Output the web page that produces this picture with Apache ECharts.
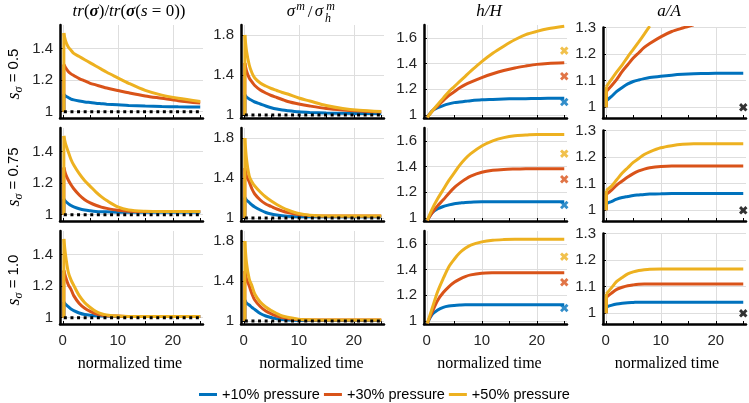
<!DOCTYPE html>
<html><head><meta charset="utf-8">
<script src="https://cdn.jsdelivr.net/npm/echarts@6/dist/echarts.min.js"></script>
<style>html,body{margin:0;padding:0;background:#fff}#c{width:749px;height:403px}</style>
</head><body><div id="c"></div>
<script>
const seriesNames = ['+10% pressure', '+30% pressure', '+50% pressure'];
const colors = ['#0072BD', '#D95319', '#EDB120'];
const rowLabels = ['0.5', '0.75', '1.0'];
const xTickValues = [0, 5, 10, 15, 20, 25];
const xLabelValues = [0, 10, 20];
const xGridValues = [0, 10, 20];
const yTicks = [[1, 1.2, 1.4], [1, 1.4, 1.8], [1, 1.2, 1.4, 1.6], [1, 1.1, 1.2, 1.3]];
const yMin = [0.96, 0.97, 0.975, 0.96];
const yMax = [1.55, 1.9, 1.7, 1.3];

// time samples
const tJump = [0.2, 0.2, 0.5, 1, 1.5, 2, 3, 4, 5, 6, 7, 8, 10, 12, 15, 18, 21, 25];
const tH = [0.1, 1, 2, 3, 4, 5, 6, 7, 8, 10, 12, 14, 16, 18, 20, 22, 25];
const tA = [0.1, 0.1, 1, 2, 3, 4, 5, 6, 7, 8, 10, 12, 14, 16, 18, 20, 25];

// column 1: tr(sigma)/tr(sigma(s=0))
const tr_s05_p10 = [1, 1.11, 1.10, 1.09, 1.08, 1.075, 1.068, 1.062, 1.058, 1.054, 1.051, 1.048, 1.044, 1.040, 1.036, 1.033, 1.031, 1.030];
const tr_s05_p30 = [1, 1.30, 1.28, 1.255, 1.24, 1.23, 1.21, 1.195, 1.18, 1.17, 1.16, 1.15, 1.135, 1.12, 1.10, 1.085, 1.07, 1.055];
const tr_s05_p50 = [1, 1.50, 1.45, 1.41, 1.39, 1.37, 1.35, 1.33, 1.31, 1.29, 1.27, 1.25, 1.215, 1.18, 1.135, 1.105, 1.085, 1.065];
const tr_s075_p10 = [1, 1.10, 1.085, 1.07, 1.058, 1.05, 1.038, 1.03, 1.025, 1.021, 1.019, 1.018, 1.016, 1.015, 1.015, 1.015, 1.015, 1.015];
const tr_s075_p30 = [1, 1.30, 1.26, 1.22, 1.19, 1.165, 1.125, 1.095, 1.075, 1.06, 1.048, 1.04, 1.028, 1.022, 1.02, 1.02, 1.02, 1.02];
const tr_s075_p50 = [1, 1.50, 1.45, 1.40, 1.35, 1.315, 1.26, 1.215, 1.18, 1.145, 1.115, 1.09, 1.05, 1.03, 1.022, 1.02, 1.02, 1.02];
const tr_s10_p10 = [1, 1.10, 1.085, 1.07, 1.055, 1.045, 1.03, 1.02, 1.015, 1.012, 1.01, 1.01, 1.008, 1.008, 1.008, 1.008, 1.008, 1.008];
const tr_s10_p30 = [1, 1.30, 1.26, 1.21, 1.18, 1.14, 1.09, 1.06, 1.04, 1.025, 1.017, 1.012, 1.01, 1.008, 1.008, 1.008, 1.008, 1.008];
const tr_s10_p50 = [1, 1.50, 1.40, 1.29, 1.24, 1.205, 1.14, 1.095, 1.065, 1.04, 1.025, 1.017, 1.01, 1.008, 1.008, 1.008, 1.008, 1.008];

// column 2: sigma^m / sigma_h^m
const sm_s05_p10 = [1, 1.20, 1.18, 1.16, 1.145, 1.13, 1.11, 1.09, 1.073, 1.06, 1.05, 1.043, 1.032, 1.026, 1.02, 1.017, 1.015, 1.015];
const sm_s05_p30 = [1, 1.52, 1.44, 1.37, 1.33, 1.295, 1.25, 1.22, 1.195, 1.175, 1.155, 1.135, 1.11, 1.09, 1.065, 1.05, 1.04, 1.03];
const sm_s05_p50 = [1, 1.80, 1.64, 1.50, 1.42, 1.37, 1.32, 1.29, 1.265, 1.245, 1.225, 1.21, 1.17, 1.14, 1.095, 1.065, 1.048, 1.035];
const sm_s075_p10 = [1, 1.205, 1.18, 1.155, 1.13, 1.11, 1.08, 1.055, 1.04, 1.03, 1.022, 1.018, 1.013, 1.012, 1.012, 1.012, 1.012, 1.012];
const sm_s075_p30 = [1, 1.50, 1.42, 1.36, 1.29, 1.24, 1.18, 1.14, 1.115, 1.09, 1.07, 1.055, 1.035, 1.025, 1.02, 1.02, 1.02, 1.02];
const sm_s075_p50 = [1, 1.80, 1.59, 1.42, 1.36, 1.32, 1.26, 1.21, 1.17, 1.135, 1.105, 1.08, 1.045, 1.028, 1.02, 1.02, 1.02, 1.02];
const sm_s10_p10 = [1, 1.21, 1.18, 1.16, 1.135, 1.115, 1.075, 1.05, 1.035, 1.022, 1.015, 1.01, 1.006, 1.005, 1.005, 1.005, 1.005, 1.005];
const sm_s10_p30 = [1, 1.50, 1.42, 1.35, 1.27, 1.21, 1.145, 1.10, 1.072, 1.05, 1.035, 1.025, 1.014, 1.01, 1.01, 1.01, 1.01, 1.01];
const sm_s10_p50 = [1, 1.80, 1.58, 1.42, 1.35, 1.27, 1.19, 1.14, 1.105, 1.075, 1.05, 1.037, 1.018, 1.012, 1.01, 1.01, 1.01, 1.01];

// column 3: h/H
const h_s05_p10 = [0.98, 1.03, 1.055, 1.072, 1.085, 1.095, 1.10, 1.105, 1.11, 1.117, 1.12, 1.123, 1.125, 1.126, 1.127, 1.128, 1.128];
const h_s05_p30 = [0.98, 1.03, 1.07, 1.11, 1.15, 1.18, 1.21, 1.235, 1.255, 1.29, 1.32, 1.345, 1.365, 1.38, 1.393, 1.40, 1.405];
const h_s05_p50 = [0.98, 1.03, 1.08, 1.13, 1.18, 1.22, 1.26, 1.30, 1.34, 1.415, 1.48, 1.535, 1.585, 1.625, 1.65, 1.67, 1.69];
const h_s075_p10 = [0.98, 1.04, 1.07, 1.088, 1.10, 1.11, 1.115, 1.12, 1.122, 1.125, 1.125, 1.125, 1.125, 1.125, 1.125, 1.125, 1.125];
const h_s075_p30 = [0.98, 1.04, 1.095, 1.14, 1.19, 1.235, 1.27, 1.30, 1.325, 1.355, 1.37, 1.377, 1.38, 1.382, 1.383, 1.383, 1.383];
const h_s075_p50 = [0.98, 1.07, 1.15, 1.22, 1.29, 1.35, 1.41, 1.46, 1.50, 1.56, 1.60, 1.625, 1.64, 1.645, 1.65, 1.65, 1.65];
const h_s10_p10 = [0.98, 1.05, 1.085, 1.105, 1.115, 1.12, 1.123, 1.125, 1.125, 1.125, 1.125, 1.125, 1.125, 1.125, 1.125, 1.125, 1.125];
const h_s10_p30 = [0.98, 1.07, 1.16, 1.22, 1.265, 1.30, 1.325, 1.345, 1.358, 1.37, 1.374, 1.375, 1.375, 1.375, 1.375, 1.375, 1.375];
const h_s10_p50 = [0.98, 1.10, 1.23, 1.33, 1.42, 1.48, 1.53, 1.565, 1.59, 1.615, 1.628, 1.633, 1.635, 1.635, 1.635, 1.635, 1.635];

// column 4: a/A (null = beyond the axis limit)
const a_s05_p10 = [1, 1.025, 1.04, 1.06, 1.075, 1.088, 1.097, 1.103, 1.108, 1.112, 1.117, 1.121, 1.124, 1.126, 1.127, 1.128, 1.128];
const a_s05_p30 = [1, 1.06, 1.08, 1.105, 1.135, 1.16, 1.185, 1.205, 1.225, 1.24, 1.265, 1.285, 1.298, 1.31, null, null, null];
const a_s05_p50 = [1, 1.078, 1.104, 1.133, 1.16, 1.19, 1.218, 1.246, 1.275, 1.305, null, null, null, null, null, null, null];
const a_s075_p10 = [1, 1.025, 1.033, 1.042, 1.048, 1.052, 1.056, 1.058, 1.06, 1.061, 1.062, 1.063, 1.063, 1.063, 1.063, 1.063, 1.063];
const a_s075_p30 = [1, 1.06, 1.075, 1.095, 1.11, 1.125, 1.138, 1.148, 1.155, 1.16, 1.165, 1.167, 1.167, 1.167, 1.167, 1.167, 1.167];
const a_s075_p50 = [1, 1.075, 1.09, 1.115, 1.14, 1.16, 1.18, 1.195, 1.21, 1.22, 1.235, 1.243, 1.248, 1.25, 1.25, 1.25, 1.25];
const a_s10_p10 = [1, 1.024, 1.03, 1.035, 1.038, 1.04, 1.041, 1.042, 1.042, 1.042, 1.042, 1.042, 1.042, 1.042, 1.042, 1.042, 1.042];
const a_s10_p30 = [1, 1.06, 1.075, 1.09, 1.098, 1.104, 1.107, 1.109, 1.11, 1.11, 1.11, 1.11, 1.11, 1.11, 1.11, 1.11, 1.11];
const a_s10_p50 = [1, 1.073, 1.095, 1.12, 1.135, 1.148, 1.156, 1.161, 1.164, 1.166, 1.167, 1.167, 1.167, 1.167, 1.167, 1.167, 1.167];

// reference markers
const crossX = 25;
const hCross = [1.1, 1.3, 1.5];
const aCross = 1.0;
const refLineX = [0.2, 25];
const refLineY = 1;

const panels = [
  [[tr_s05_p10, tr_s05_p30, tr_s05_p50], [sm_s05_p10, sm_s05_p30, sm_s05_p50], [h_s05_p10, h_s05_p30, h_s05_p50], [a_s05_p10, a_s05_p30, a_s05_p50]],
  [[tr_s075_p10, tr_s075_p30, tr_s075_p50], [sm_s075_p10, sm_s075_p30, sm_s075_p50], [h_s075_p10, h_s075_p30, h_s075_p50], [a_s075_p10, a_s075_p30, a_s075_p50]],
  [[tr_s10_p10, tr_s10_p30, tr_s10_p50], [sm_s10_p10, sm_s10_p30, sm_s10_p50], [h_s10_p10, h_s10_p30, h_s10_p50], [a_s10_p10, a_s10_p30, a_s10_p50]]
];
const colTimes = [tJump, tJump, tH, tA];

const SANS = 'Liberation Sans, Arial, sans-serif';
const SERIF = 'Liberation Serif, Times New Roman, serif';
const GRID_C = '#dedede';
const W = 143, H = 93;
const colLeft = [60, 241, 424, 603];
const rowTop = [25, 128, 231];
const fmt = v => String(Math.round(v * 100) / 100);
const CROSS = 'path://M0,2.4L2.4,0L5,2.6L7.6,0L10,2.4L7.4,5L10,7.6L7.6,10L5,7.4L2.4,10L0,7.6L2.6,5Z';

const grids = [], xAxes = [], yAxes = [], series = [];
for (let r = 0; r < 3; r++) {
  for (let c = 0; c < 4; c++) {
    const g = r * 4 + c;
    const off = c === 3 ? 2.5 : 0;
    grids.push({ left: colLeft[c], top: rowTop[r] + off, width: W, height: H - off, outerBoundsMode: 'none' });
    xAxes.push({
      type: 'value', gridIndex: g, min: -0.5, max: 25.5,
      axisLine: { show: true, onZero: false, lineStyle: { color: '#000', width: 2.5 } },
      axisTick: { show: true, inside: true, length: 3, customValues: xTickValues, lineStyle: { color: '#000', width: 1 } },
      axisLabel: { show: r === 2, customValues: xLabelValues, margin: 9, fontSize: 15, fontFamily: SANS, color: '#262626', formatter: fmt },
      splitLine: { show: false }
    });
    xAxes.push({
      type: 'value', gridIndex: g, min: -0.5, max: 25.5,
      axisLine: { show: false }, axisLabel: { show: false },
      axisTick: { show: false, customValues: xGridValues },
      splitLine: { show: true, lineStyle: { color: GRID_C, width: 1 } }
    });
    yAxes.push({
      type: 'value', gridIndex: g, min: yMin[c], max: yMax[c],
      axisLine: { show: true, onZero: false, lineStyle: { color: '#000', width: 2.5 } },
      axisTick: { show: true, inside: true, length: 3, customValues: yTicks[c], lineStyle: { color: '#000', width: 1 } },
      axisLabel: { customValues: yTicks[c], margin: 7, fontSize: 15, fontFamily: SANS, color: '#262626', formatter: fmt },
      splitLine: { show: true, lineStyle: { color: GRID_C, width: 1 } }
    });
    const t = colTimes[c];
    panels[r][c].forEach((ys, k) => {
      const data = [];
      t.forEach((x, i) => { if (ys[i] !== null) data.push([x, ys[i]]); });
      const hasJump = t[0] === t[1];
      if (hasJump) {
        series.push({
          type: 'line', xAxisIndex: 2 * g, yAxisIndex: g, data: data.slice(0, 2),
          symbol: 'none', showSymbol: false, z: 3 + k,
          lineStyle: { color: colors[k], width: 3, cap: 'butt' }, itemStyle: { color: colors[k] },
          emphasis: { disabled: true }
        });
      }
      series.push({
        type: 'line', name: seriesNames[k], xAxisIndex: 2 * g, yAxisIndex: g,
        data: hasJump ? data.slice(1) : data, smooth: 0.3,
        symbol: 'none', showSymbol: false, z: 3 + k,
        lineStyle: { color: colors[k], width: 3 }, itemStyle: { color: colors[k] },
        emphasis: { disabled: true }
      });
    });
    if (c < 2) {
      series.push({
        type: 'line', xAxisIndex: 2 * g, yAxisIndex: g, z: 10, symbol: 'none',
        data: refLineX.map(x => [x, refLineY]),
        lineStyle: { color: '#000', width: 3, type: [3, 3.6] }
      });
    } else if (c === 2) {
      hCross.forEach((v, k) => series.push({
        type: 'scatter', xAxisIndex: 2 * g, yAxisIndex: g, z: 10, symbol: CROSS, symbolSize: 8.5,
        data: [[crossX, v]], itemStyle: { color: colors[k] }
      }));
    } else {
      series.push({
        type: 'scatter', xAxisIndex: 2 * g, yAxisIndex: g, z: 10, symbol: CROSS, symbolSize: 8.5,
        data: [[crossX, aCross]], itemStyle: { color: '#000' }
      });
    }
  }
}

function txt(x, y, text, extra) {
  return {
    type: 'text', x, y,
    style: Object.assign({ text, fill: '#000', align: 'center', verticalAlign: 'middle', textAlign: 'center', textVerticalAlign: 'middle' }, extra || {})
  };
}
const it = { fontFamily: SERIF, fontStyle: 'italic', fontSize: 17 };
const graphics = [];
// column titles
graphics.push(txt(129, 12, '{i|tr}{n|(}{b|σ}{n|)/}{i|tr}{n|(}{b|σ}{n|(}{i|s}{n| = 0))}', {
  rich: {
    i: Object.assign({}, it), n: { fontFamily: SERIF, fontSize: 17 },
    b: { fontFamily: SERIF, fontStyle: 'italic', fontWeight: 'bold', fontSize: 17 }
  }
}));
graphics.push(txt(291, 12, 'σ', { font: 'italic 17px ' + SERIF }));
graphics.push(txt(300.5, 7, 'm', { font: 'italic 12px ' + SERIF }));
graphics.push(txt(310, 13, '/', { font: '17px ' + SERIF }));
graphics.push(txt(319, 12, 'σ', { font: 'italic 17px ' + SERIF }));
graphics.push(txt(330.5, 7, 'm', { font: 'italic 12px ' + SERIF }));
graphics.push(txt(328, 19, 'h', { font: 'italic 12px ' + SERIF }));
graphics.push(txt(489, 12, 'h/H', { font: 'italic 17px ' + SERIF }));
graphics.push(txt(669, 12, 'a/A', { font: 'italic 17px ' + SERIF }));
// x axis names
[130, 311.5, 489.5, 667].forEach(x => graphics.push(txt(x, 364, 'normalized time', { font: '16px ' + SERIF })));
// row labels
[74, 177, 280].forEach((y, r) => {
  const el = txt(14, y, '{s|s}{sub|σ}{n| = ' + rowLabels[r] + '}', {
    rich: {
      s: { fontFamily: SERIF, fontStyle: 'italic', fontSize: 18, lineHeight: 22, verticalAlign: 'middle' },
      sub: { fontFamily: SERIF, fontStyle: 'italic', fontSize: 12, lineHeight: 12, verticalAlign: 'bottom' },
      n: { fontFamily: SANS, fontSize: 15, lineHeight: 22, verticalAlign: 'middle' }
    }
  });
  el.rotation = Math.PI / 2;
  graphics.push(el);
});

const chart = echarts.init(document.getElementById('c'), null, { renderer: 'canvas' });
chart.setOption({
  animation: false,
  backgroundColor: '#fff',
  grid: grids, xAxis: xAxes, yAxis: yAxes, series,
  legend: {
    data: seriesNames, left: 199, top: 387, padding: 0, icon: 'rect', itemWidth: 18, itemHeight: 3, itemGap: 4,
    textStyle: { fontSize: 14.5, fontFamily: SANS, color: '#000' }
  },
  graphic: { elements: graphics }
});
</script></body></html>
